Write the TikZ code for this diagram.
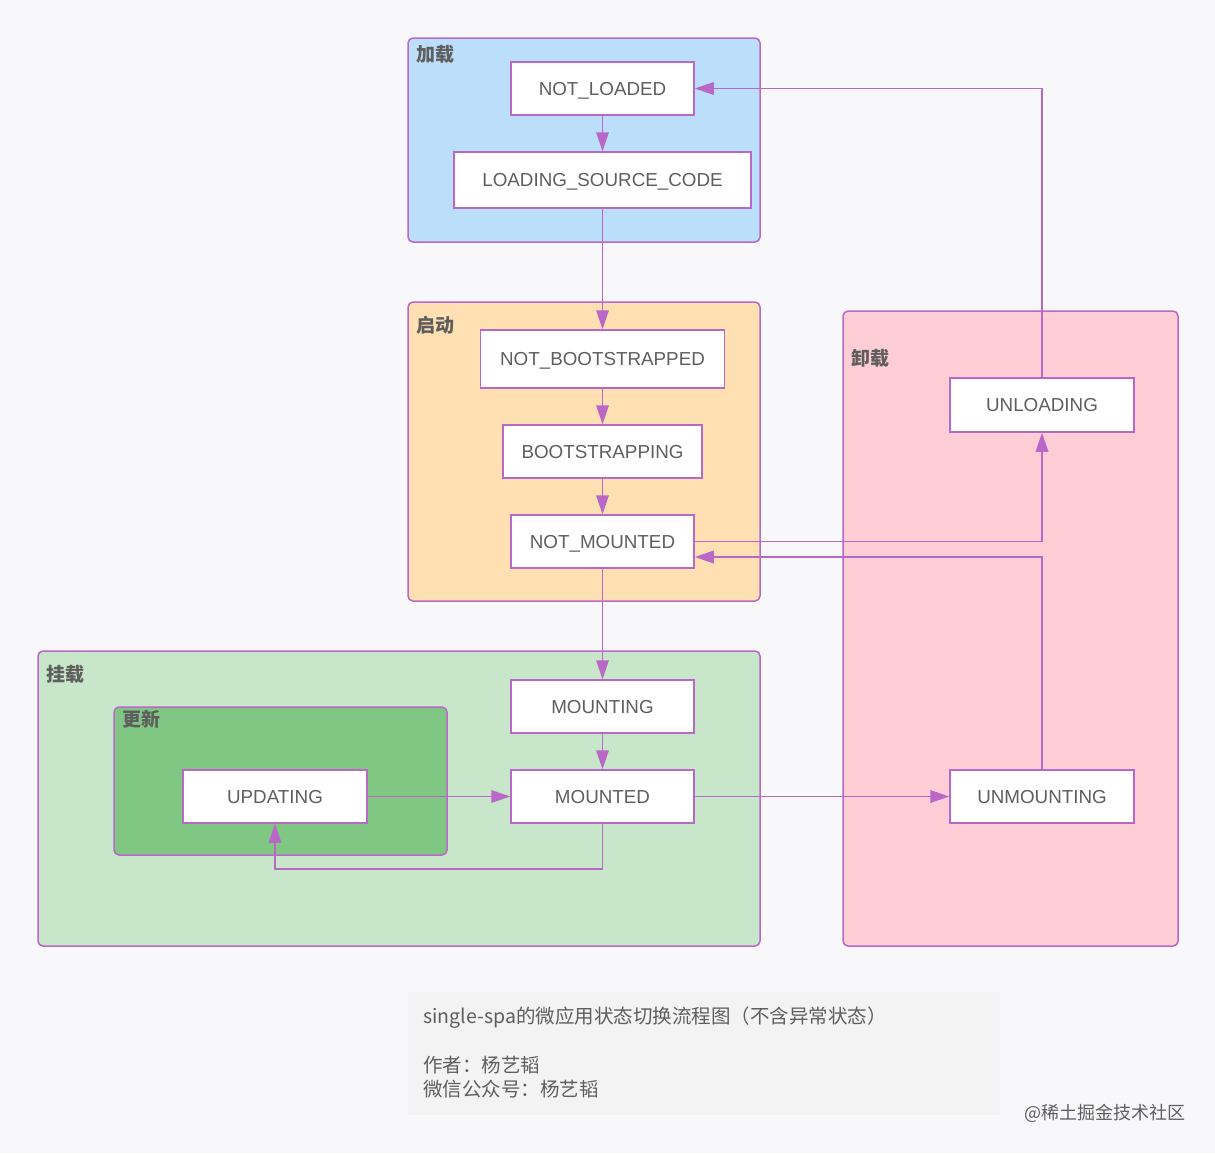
\documentclass[tikz,border=0pt]{standalone}
\usepackage{fontspec}
\setmainfont{Liberation Sans}
\newfontfamily\cjk{Noto Sans CJK SC}
\usetikzlibrary{arrows.meta,calc}
\definecolor{pur}{HTML}{BA68C8}
\definecolor{txt}{HTML}{5E5E5E}
\definecolor{bgc}{HTML}{F8F8FA}
\definecolor{capbg}{HTML}{F3F3F3}
\definecolor{gblue}{HTML}{BBDEFB}
\definecolor{gorange}{HTML}{FFE0B2}
\definecolor{ggreen}{HTML}{C8E6C9}
\definecolor{ggreenin}{HTML}{81C784}
\definecolor{gpink}{HTML}{FFCDD5}
\tikzset{
  st/.style={draw=pur, line width=0.75pt, fill=white, inner sep=0pt, text=txt,
    text height=6.73pt, text depth=0pt, font=\fontsize{9.4}{11}\selectfont},
  grp/.style={draw=pur, line width=0.75pt, rounded corners=2.5pt},
  glab/.style={anchor=west, inner sep=0pt, text=txt, font=\cjk\bfseries\fontsize{9.5}{11}\selectfont},
  arr/.style={draw=pur, line width=0.75pt, -{Triangle[length=9.5pt,width=6.3pt]}},
  captext/.style={anchor=west, inner sep=0pt, text=txt, font=\cjk\fontsize{9.75}{11}\selectfont}
}
\begin{document}
\begin{tikzpicture}[x=0.5pt,y=-0.5pt]
\fill[bgc] (0,0) rectangle (1215,1153);
\useasboundingbox (0,0) rectangle (1215,1153);
% groups
\draw[grp, fill=gblue] (408,38) rectangle (760,242);
\node[glab] (gl1) at (416,54) {加载};
\draw[grp, fill=gorange] (408,302) rectangle (760,601);
\node[glab] (gl2) at (416,325) {启动};
\draw[grp, fill=ggreen] (38,651) rectangle (760,946);
\node[glab] (gl3) at (46,674) {挂载};
\draw[grp, fill=ggreenin] (114,707) rectangle (447,855);
\node[glab] (gl4) at (122,719) {更新};
\draw[grp, fill=gpink] (843,311) rectangle (1178,946);
\node[glab] (gl5) at (851,358) {卸载};
% states
\node[st, minimum width=91.5pt, minimum height=26.5pt] (nl) at (602.5,88.5) {NOT\_LOADED};
\node[st, minimum width=148.5pt, minimum height=28pt] (lsc) at (602.5,180) {LOADING\_SOURCE\_CODE};
\node[st, minimum width=122pt, minimum height=29pt] (nb) at (602.5,359) {NOT\_BOOTSTRAPPED};
\node[st, minimum width=99.5pt, minimum height=26.5pt] (bs) at (602.5,451.5) {BOOTSTRAPPING};
\node[st, minimum width=91.5pt, minimum height=26.5pt] (nm) at (602.5,541.5) {NOT\_MOUNTED};
\node[st, minimum width=91.5pt, minimum height=26.5pt] (mtg) at (602.5,706.5) {MOUNTING};
\node[st, minimum width=91.5pt, minimum height=26.5pt] (mtd) at (602.5,796.5) {MOUNTED};
\node[st, minimum width=92pt, minimum height=26.5pt] (upd) at (275,796.5) {UPDATING};
\node[st, minimum width=92pt, minimum height=27pt] (unl) at (1042,405) {UNLOADING};
\node[st, minimum width=92pt, minimum height=26.5pt] (unm) at (1042,796.5) {UNMOUNTING};
% transitions
\draw[arr] (nl) -- (lsc);
\draw[arr] (lsc) -- (nb);
\draw[arr] (nb) -- (bs);
\draw[arr] (bs) -- (nm);
\draw[arr] (nm) -- (mtg);
\draw[arr] (mtg) -- (mtd);
\draw[arr] (upd) -- (mtd);
\draw[arr] (mtd) -- (unm);
\draw[arr] (mtd.south) -- ++(0,45) -| (upd.south);
\draw[arr] (nm.east) -| (unl.south);
\draw[arr] (unm.north) |- ($(nm.east)+(0,15.5)$);
\draw[arr] (unl.north) |- (nl.east);
% caption
\fill[capbg] (408,992) rectangle (1000,1115);
\node[captext] (c1) at (423,1018) {single-spa的微应用状态切换流程图（不含异常状态）};
\node[captext] (c2) at (423,1065) {作者：杨艺韬};
\node[captext] (c3) at (423,1089) {微信公众号：杨艺韬};
\node[anchor=east, inner sep=0pt, text=txt, font=\cjk\fontsize{9}{11}\selectfont] (wm) at (1186,1113) {@稀土掘金技术社区};
\end{tikzpicture}
\end{document}
